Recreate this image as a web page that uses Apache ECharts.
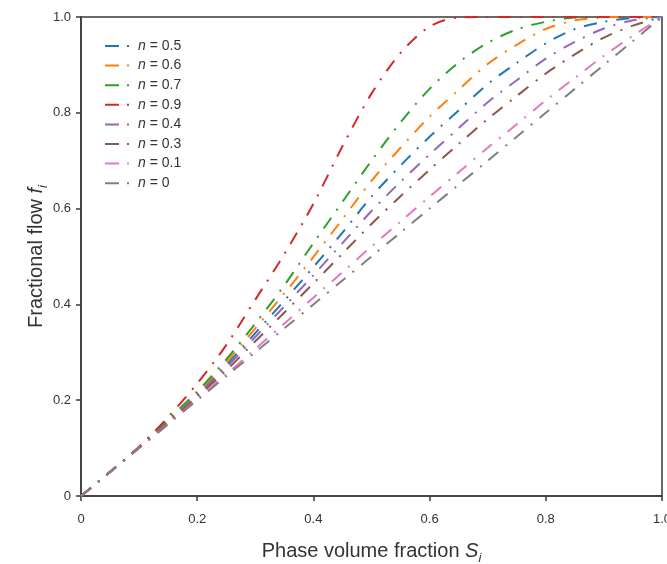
<!DOCTYPE html>
<html>
<head>
<meta charset="utf-8">
<script src="https://cdn.jsdelivr.net/npm/echarts@6/dist/echarts.min.js"></script>
<style>
html,body{margin:0;padding:0;background:#fff;}
#chart{width:667px;height:564px;}
</style>
</head>
<body>
<div id="chart"></div>
<script>
// Phase volume fraction S_i (x values)
const S = [0, 0.05, 0.1, 0.15, 0.2, 0.25, 0.3, 0.35, 0.4, 0.45, 0.5, 0.55, 0.6, 0.65, 0.7, 0.75, 0.8, 0.85, 0.9, 0.95, 1.0];
// Fractional flow f_i for each n
const f_n05 = [0, 0.050, 0.101, 0.157, 0.213, 0.273, 0.340, 0.408, 0.478, 0.550, 0.625, 0.690, 0.750, 0.805, 0.860, 0.904, 0.945, 0.975, 0.990, 0.998, 1];
const f_n06 = [0, 0.050, 0.102, 0.158, 0.215, 0.279, 0.350, 0.423, 0.499, 0.578, 0.658, 0.727, 0.792, 0.848, 0.902, 0.942, 0.975, 0.993, 0.999, 1, 1];
const f_n07 = [0, 0.050, 0.102, 0.160, 0.218, 0.285, 0.360, 0.440, 0.528, 0.614, 0.700, 0.780, 0.850, 0.905, 0.946, 0.974, 0.990, 0.999, 1, 1, 1];
const f_n09 = [0, 0.051, 0.103, 0.165, 0.235, 0.315, 0.410, 0.505, 0.610, 0.730, 0.840, 0.925, 0.980, 0.999, 1, 1, 1, 1, 1, 1, 1];
const f_n04 = [0, 0.050, 0.101, 0.155, 0.210, 0.268, 0.332, 0.396, 0.461, 0.528, 0.595, 0.656, 0.713, 0.768, 0.822, 0.868, 0.913, 0.948, 0.976, 0.993, 1];
const f_n03 = [0, 0.050, 0.101, 0.153, 0.207, 0.262, 0.323, 0.383, 0.444, 0.506, 0.568, 0.626, 0.681, 0.735, 0.787, 0.835, 0.882, 0.922, 0.957, 0.982, 1];
const f_n01 = [0, 0.050, 0.100, 0.151, 0.202, 0.254, 0.307, 0.360, 0.414, 0.467, 0.521, 0.573, 0.625, 0.676, 0.727, 0.776, 0.826, 0.873, 0.919, 0.961, 1];
const f_n0  = [0, 0.050, 0.100, 0.150, 0.200, 0.250, 0.300, 0.350, 0.400, 0.450, 0.500, 0.550, 0.600, 0.650, 0.700, 0.750, 0.800, 0.850, 0.900, 0.950, 1];

const seriesNames = ['n = 0.5', 'n = 0.6', 'n = 0.7', 'n = 0.9', 'n = 0.4', 'n = 0.3', 'n = 0.1', 'n = 0'];
const seriesValues = [f_n05, f_n06, f_n07, f_n09, f_n04, f_n03, f_n01, f_n0];
const seriesColors = ['#1f77b4', '#ff7f0e', '#2ca02c', '#d62728', '#9467bd', '#8c564b', '#e377c2', '#7f7f7f'];

const FONT = 'Arial, "Liberation Sans", sans-serif';
const chart = echarts.init(document.getElementById('chart'), null, {renderer: 'canvas'});

const series = seriesNames.map((name, k) => ({
  name: name,
  type: 'line',
  data: S.map((s, i) => [s, seriesValues[k][i]]),
  smooth: 0.3,
  symbol: 'none',
  showSymbol: false,
  clip: true,
  color: seriesColors[k],
  lineStyle: {width: 2, color: seriesColors[k], type: [13, 9, 2, 9]}
}));

const fmt = v => (v === 0 ? '0' : v.toFixed(1));
const nameRich = {
  r: {fontFamily: FONT, fontSize: 20, color: '#333', lineHeight: 28},
  it: {fontFamily: FONT, fontSize: 20, fontStyle: 'italic', color: '#333', lineHeight: 28},
  sub: {fontFamily: FONT, fontSize: 13, fontStyle: 'italic', color: '#333', verticalAlign: 'bottom', lineHeight: 28}
};

chart.setOption({
  animation: false,
  backgroundColor: '#fff',
  grid: {left: 81, right: 5, top: 17, bottom: 68, outerBoundsMode: 'none', containLabel: false,
    show: true, borderColor: '#3a3a3a', borderWidth: 1.5, backgroundColor: 'transparent'},
  legend: {
    orient: 'vertical', left: 105, top: 39, padding: 0,
    itemWidth: 24, itemHeight: 2, itemGap: 5.6,
    icon: 'path://M0,0H14V2H0Z M22,0H24V2H22Z',
    data: seriesNames,
    formatter: name => '{i|n}' + name.slice(1),
    textStyle: {fontFamily: FONT, fontSize: 14, color: '#333', padding: [0, 0, 0, 4],
      rich: {i: {fontStyle: 'italic', fontFamily: FONT, fontSize: 14, color: '#333'}}}
  },
  xAxis: {
    type: 'value', min: 0, max: 1, interval: 0.2,
    name: '{r|Phase volume fraction }{it|S}{sub|i}',
    nameLocation: 'middle', nameGap: 41, nameMoveOverlap: false,
    nameTextStyle: {rich: nameRich},
    axisLine: {show: true, onZero: false, lineStyle: {color: '#3a3a3a', width: 1.5}},
    axisTick: {show: true, inside: false, length: 5, lineStyle: {color: '#3a3a3a', width: 1.5}},
    axisLabel: {fontFamily: FONT, fontSize: 13, color: '#333', margin: 17, formatter: fmt, showMaxLabel: true},
    splitLine: {show: false}
  },
  yAxis: {
    type: 'value', min: 0, max: 1, interval: 0.2,
    name: '{r|Fractional flow }{it|f}{sub|i}',
    nameLocation: 'middle', nameGap: 31, nameRotate: 90, nameMoveOverlap: false,
    nameTextStyle: {rich: nameRich},
    axisLine: {show: true, onZero: false, lineStyle: {color: '#3a3a3a', width: 1.5}},
    axisTick: {show: true, inside: false, length: 5, lineStyle: {color: '#3a3a3a', width: 1.5}},
    axisLabel: {fontFamily: FONT, fontSize: 13, color: '#333', margin: 10, formatter: fmt},
    splitLine: {show: false}
  },
  series: series
});
</script>
</body>
</html>
